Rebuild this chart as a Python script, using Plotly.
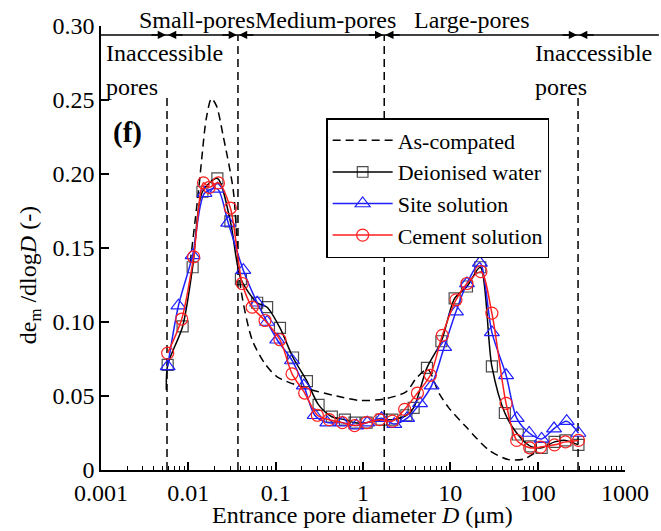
import math
import plotly.graph_objects as go

# ---------------- data ----------------
as_d = [0.0105, 0.0131, 0.0145, 0.016, 0.0184, 0.021, 0.0252, 0.0327, 0.0365, 0.040, 0.0538, 0.075,
        0.104, 0.228, 0.5, 0.914, 1.76, 3.14, 4.07, 5.5, 7.4, 9.6, 15.2, 27.6, 46.5, 70, 95]
as_v = [0.14, 0.189, 0.215, 0.237, 0.251, 0.246, 0.225, 0.189, 0.15, 0.122, 0.088, 0.072,
        0.063, 0.055, 0.050, 0.047, 0.048, 0.053, 0.062, 0.068, 0.052, 0.042, 0.029, 0.0135, 0.007, 0.0075, 0.012]

dw_d = [0.0056, 0.0058, 0.0086, 0.0112, 0.0145, 0.0215, 0.0303, 0.040, 0.0614, 0.0798, 0.112, 0.158,
        0.228, 0.31, 0.44, 0.62, 0.80, 1.10, 1.63, 2.17, 3.14, 3.8, 5.4, 7.9, 11.2, 15.5, 22.0,
        29.9, 42.1, 59.2, 83.2, 111, 156, 208, 293]
dw_v = [0.054, 0.071, 0.097, 0.137, 0.188, 0.197, 0.168, 0.129, 0.113, 0.110, 0.096, 0.076,
        0.060, 0.044, 0.036, 0.034, 0.032, 0.032, 0.034, 0.034, 0.037, 0.042, 0.069, 0.087, 0.116, 0.124, 0.137,
        0.070, 0.0385, 0.024, 0.016, 0.015, 0.019, 0.020, 0.017]

ss_d = [0.0058, 0.0077, 0.0112, 0.0153, 0.0215, 0.0286, 0.0426, 0.0614, 0.0798, 0.104, 0.154, 0.21,
        0.28, 0.39, 0.58, 0.84, 1.12, 1.63, 2.28, 3.2, 4.5, 6.1, 8.5, 11.6, 15.5, 21.8, 29.9, 43.5,
        57.5, 80, 111, 154, 215, 293]
ss_v = [0.070, 0.111, 0.145, 0.187, 0.190, 0.167, 0.135, 0.113, 0.100, 0.088, 0.074, 0.057,
        0.037, 0.032, 0.032, 0.030, 0.032, 0.035, 0.031, 0.035, 0.045, 0.057, 0.083, 0.107, 0.126, 0.140, 0.093, 0.064,
        0.035, 0.025, 0.021, 0.028, 0.033, 0.025]

cs_d = [0.0058, 0.0084, 0.0115, 0.0149, 0.0174, 0.0221, 0.0303, 0.0414, 0.0538, 0.0755, 0.112, 0.154,
        0.215, 0.30, 0.41, 0.58, 0.80, 1.10, 1.54, 2.17, 3.0, 4.2, 5.9, 8.1, 11.6, 15.5, 22.4, 29.9,
        43.5, 57.5, 81, 108, 156, 208, 293]
cs_v = [0.079, 0.102, 0.144, 0.194, 0.191, 0.194, 0.177, 0.126, 0.110, 0.101, 0.088, 0.065,
        0.052, 0.037, 0.034, 0.032, 0.030, 0.032, 0.034, 0.033, 0.041, 0.052, 0.064, 0.091, 0.115, 0.126, 0.134, 0.106,
        0.045, 0.020, 0.015, 0.0155, 0.017, 0.019, 0.020]

boundaries = [0.0057, 0.037, 1.75, 290]
boundary_tops = [0.252, 0.294, 0.294, 0.254]

x_tick_vals = [0.001, 0.01, 0.1, 1, 10, 100, 1000]
x_tick_text = ["0.001", "0.01", "0.1", "1", "10", "100", "1000"]
y_tick_vals = [0, 0.05, 0.10, 0.15, 0.20, 0.25, 0.30]
y_tick_text = ["0", "0.05", "0.10", "0.15", "0.20", "0.25", "0.30"]

region_names = ["Small-pores", "Medium-pores", "Large-pores"]

# ---------------- figure ----------------
FONT = "Liberation Serif, Times New Roman, serif"
FS = 24
W, H = 661, 531
L, R, T, B = 101, 34, 26, 61
pw, ph = W - L - R, H - T - B


def px(xp):
    return (xp - L) / pw


def py(yp):
    return (H - B - yp) / ph


fig = go.Figure()

for b, top in zip(boundaries, boundary_tops):
    fig.add_trace(go.Scatter(x=[b, b], y=[0, top], mode="lines", showlegend=False,
                             line=dict(color="black", width=1.5, dash="8px,5px"), hoverinfo="skip"))

fig.add_trace(go.Scatter(x=as_d, y=as_v, mode="lines", name="As-compated",
                         line=dict(color="black", width=1.5, dash="8px,5px", shape="spline", smoothing=0.8)))
fig.add_trace(go.Scatter(x=dw_d, y=dw_v, mode="lines+markers", name="Deionised water",
                         line=dict(color="black", width=1.5, shape="spline", smoothing=0.8),
                         marker=dict(symbol="square-open", size=[0] + [11] * (len(dw_d) - 1),
                                     color="black", line=dict(width=1.2))))
fig.add_trace(go.Scatter(x=ss_d, y=ss_v, mode="lines+markers", name="Site solution",
                         line=dict(color="#1f1fff", width=1.5, shape="spline", smoothing=0.8),
                         marker=dict(symbol="triangle-up-open", size=13, color="#1f1fff", line=dict(width=1.2))))
fig.add_trace(go.Scatter(x=cs_d, y=cs_v, mode="lines+markers", name="Cement solution",
                         line=dict(color="#ff1f1f", width=1.5, shape="spline", smoothing=0.8),
                         marker=dict(symbol="circle-open", size=12, color="#ff1f1f", line=dict(width=1.2))))

# top guide line with arrows
fig.add_shape(type="line", xref="paper", yref="y", x0=0, x1=(W - L) / pw, y0=0.294, y1=0.294,
              line=dict(color="black", width=1.5))
for b in boundaries:
    for off in (-17, 17):
        fig.add_annotation(x=math.log10(b), y=0.294, xref="x", yref="y", ax=off, ay=0, text="",
                           showarrow=True, arrowhead=2, arrowsize=1.1, arrowwidth=1.5, arrowcolor="black",
                           standoff=1)

annotations = [
    dict(text=region_names[0], x=px(197), y=py(20)),
    dict(text=region_names[1], x=px(326), y=py(20)),
    dict(text=region_names[2], x=px(473), y=py(20)),
]
for a in annotations:
    fig.add_annotation(xref="paper", yref="paper", showarrow=False, xanchor="center", yanchor="middle",
                       font=dict(family=FONT, size=FS, color="black"), **a)

for xs in (104, 535):
    fig.add_annotation(text="Inaccessible", x=px(xs), y=py(53), xref="paper", yref="paper", showarrow=False,
                       xanchor="left", yanchor="middle", font=dict(family=FONT, size=FS, color="black"))
    fig.add_annotation(text="pores", x=px(xs), y=py(87), xref="paper", yref="paper", showarrow=False,
                       xanchor="left", yanchor="middle", font=dict(family=FONT, size=FS, color="black"))

fig.add_annotation(text="<b>(f)</b>", x=px(128), y=py(132), xref="paper", yref="paper", showarrow=False,
                   xanchor="center", yanchor="middle", font=dict(family=FONT, size=29, color="black"))

fig.add_annotation(text="de<sub>m</sub> /dlog<i>D</i> (-)", x=px(30), y=py(275), xref="paper", yref="paper",
                   showarrow=False, textangle=-90, xanchor="center", yanchor="middle",
                   font=dict(family=FONT, size=FS, color="black"))
fig.add_annotation(text="Entrance pore diameter <i>D</i> (μm)", x=px(363), y=py(515), xref="paper",
                   yref="paper", showarrow=False, xanchor="center", yanchor="middle",
                   font=dict(family=FONT, size=FS, color="black"))

fig.update_layout(
    width=W, height=H,
    margin=dict(l=L, r=R, t=T, b=B),
    paper_bgcolor="white", plot_bgcolor="white",
    font=dict(family=FONT, size=FS, color="black"),
    showlegend=True,
    legend=dict(x=px(327), y=py(118), xanchor="left", yanchor="top", bgcolor="white",
                bordercolor="black", borderwidth=1.5, font=dict(family=FONT, size=22, color="black"),
                itemwidth=60, tracegroupgap=0),
    xaxis=dict(type="log", range=[-3, 3], tickvals=x_tick_vals, ticktext=x_tick_text,
               ticks="inside", ticklen=8, tickwidth=1.5, tickcolor="black",
               showline=True, linecolor="black", linewidth=1.5, showgrid=False, zeroline=False,
               minor=dict(ticks="inside", ticklen=4, tickwidth=1.2, tickcolor="black", dtick="D1",
                          showgrid=False)),
    yaxis=dict(range=[0, 0.30], tickvals=y_tick_vals, ticktext=y_tick_text,
               ticks="inside", ticklen=8, tickwidth=1.5, tickcolor="black",
               showline=True, linecolor="black", linewidth=1.5, showgrid=False, zeroline=False),
)

fig.write_html("out.html", config={"displayModeBar": False},
               post_script="document.body.style.margin='0';document.body.style.overflow='hidden';")
